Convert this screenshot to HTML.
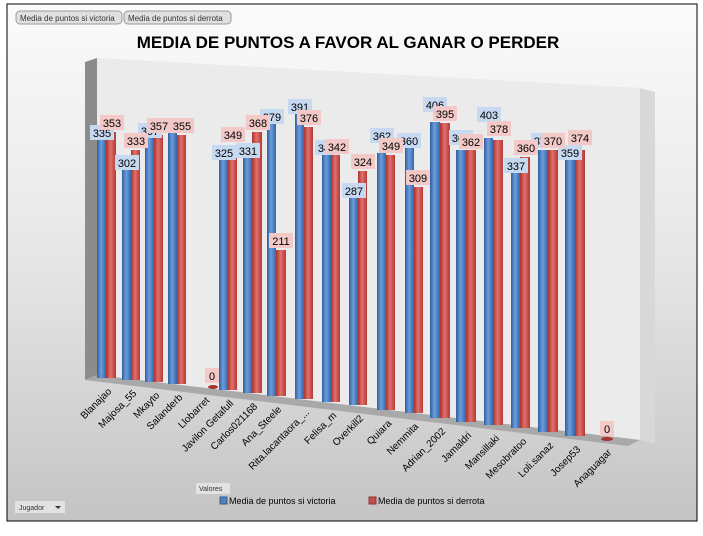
<!DOCTYPE html>
<html><head><meta charset="utf-8"><style>
body{margin:0;width:703px;height:531px;overflow:hidden;background:#fff;font-family:"Liberation Sans",sans-serif}
</style></head><body>
<svg width="703" height="531" viewBox="0 0 703 531" xmlns="http://www.w3.org/2000/svg" font-family="Liberation Sans, sans-serif">
<defs>
<linearGradient id="bg" x1="0" y1="0" x2="0" y2="1"><stop offset="0" stop-color="#fbfbfb"/><stop offset="0.5" stop-color="#e6e6e6"/><stop offset="1" stop-color="#c4c4c4"/></linearGradient>
<linearGradient id="bl" x1="0" y1="0" x2="1" y2="0"><stop offset="0" stop-color="#2f5e9e"/><stop offset="0.45" stop-color="#6d9ddb"/><stop offset="1" stop-color="#3466ad"/></linearGradient>
<linearGradient id="rd" x1="0" y1="0" x2="1" y2="0"><stop offset="0" stop-color="#a8322f"/><stop offset="0.45" stop-color="#e2706b"/><stop offset="1" stop-color="#b33a36"/></linearGradient>
</defs>
<rect x="7" y="4" width="690" height="517" fill="url(#bg)" stroke="#000" stroke-width="1"/>
<!-- walls -->
<polygon points="97,58 640,88 640,440 97,375" fill="#ebebeb"/>
<polygon points="640,88 655,92 655,444 640,440" fill="#d8d8d8"/>
<polygon points="85,62 97,58 97,375 85,380" fill="#8c8c8c"/>
<polygon points="85,380 97,375 640,440 628,446" fill="#a9a9a9"/>
<!-- buttons -->
<rect x="16" y="11" width="106" height="13" rx="4" fill="#e0e0e0" stroke="#9a9a9a"/>
<text x="20" y="21" font-size="8" fill="#333">Media de puntos si victoria</text>
<rect x="124" y="11" width="107" height="13" rx="4" fill="#e0e0e0" stroke="#9a9a9a"/>
<text x="128" y="21" font-size="8" fill="#333">Media de puntos si derrota</text>
<text x="348" y="48" font-size="17" font-weight="bold" text-anchor="middle" fill="#000">MEDIA DE PUNTOS A FAVOR AL GANAR O PERDER</text>
<g id="bars">
<!-- bars: blue then red -->
<rect x="97" y="140" width="9" height="238" fill="url(#bl)"/><rect x="106" y="132" width="10" height="246" fill="url(#rd)"/>
<rect x="122" y="170" width="9" height="210" fill="url(#bl)"/><rect x="131" y="150" width="9" height="230" fill="url(#rd)"/>
<rect x="145" y="138" width="9" height="244" fill="url(#bl)"/><rect x="154" y="135" width="9" height="247" fill="url(#rd)"/>
<rect x="168" y="133" width="9" height="251" fill="url(#bl)"/><rect x="177" y="135" width="9" height="249" fill="url(#rd)"/>
<ellipse cx="213" cy="387" rx="5" ry="2" fill="#a8322f"/>
<rect x="219" y="160" width="9" height="230" fill="url(#bl)"/><rect x="228" y="155" width="9" height="235" fill="url(#rd)"/>
<rect x="243" y="158" width="9" height="235" fill="url(#bl)"/><rect x="252" y="132" width="10" height="261" fill="url(#rd)"/>
<rect x="267" y="124" width="9" height="272" fill="url(#bl)"/><rect x="276" y="250" width="10" height="146" fill="url(#rd)"/>
<rect x="295" y="114" width="9" height="285" fill="url(#bl)"/><rect x="304" y="127" width="9" height="272" fill="url(#rd)"/>
<rect x="322" y="155" width="9" height="247" fill="url(#bl)"/><rect x="331" y="155" width="9" height="247" fill="url(#rd)"/>
<rect x="349" y="198" width="9" height="207" fill="url(#bl)"/><rect x="358" y="171" width="9" height="234" fill="url(#rd)"/>
<rect x="377" y="153" width="9" height="257" fill="url(#bl)"/><rect x="386" y="155" width="9" height="255" fill="url(#rd)"/>
<rect x="405" y="148" width="9" height="265" fill="url(#bl)"/><rect x="414" y="187" width="9" height="226" fill="url(#rd)"/>
<rect x="430" y="122" width="10" height="296" fill="url(#bl)"/><rect x="440" y="123" width="10" height="295" fill="url(#rd)"/>
<rect x="456" y="150" width="10" height="272" fill="url(#bl)"/><rect x="466" y="150" width="10" height="272" fill="url(#rd)"/>
<rect x="484" y="138" width="9" height="287" fill="url(#bl)"/><rect x="493" y="140" width="10" height="285" fill="url(#rd)"/>
<rect x="511" y="173" width="9" height="255" fill="url(#bl)"/><rect x="520" y="157" width="10" height="271" fill="url(#rd)"/>
<rect x="538" y="150" width="10" height="282" fill="url(#bl)"/><rect x="548" y="150" width="10" height="282" fill="url(#rd)"/>
<rect x="565" y="160" width="10" height="276" fill="url(#bl)"/><rect x="575" y="150" width="10" height="286" fill="url(#rd)"/>
<ellipse cx="607" cy="439" rx="6" ry="2" fill="#a8322f"/>
</g>
<g font-size="11" text-anchor="middle" fill="#000">
<!-- blue labels -->
<g fill="#c6d9f1"><rect x="90" y="125" width="24" height="15"/><rect x="115" y="155" width="24" height="15"/><rect x="138" y="123" width="24" height="15"/><rect x="212" y="145" width="24" height="15"/><rect x="236" y="143" width="24" height="15"/><rect x="260" y="109" width="24" height="15"/><rect x="288" y="99" width="24" height="15"/><rect x="315" y="140" width="24" height="15"/><rect x="342" y="183" width="24" height="15"/><rect x="370" y="128" width="24" height="15"/><rect x="397" y="133" width="24" height="15"/><rect x="423" y="97" width="24" height="15"/><rect x="449" y="130" width="24" height="15"/><rect x="477" y="107" width="24" height="15"/><rect x="504" y="158" width="24" height="15"/><rect x="531" y="133" width="24" height="15"/><rect x="558" y="145" width="24" height="15"/></g>
<text x="102" y="137">335</text><text x="127" y="167">302</text><text x="150" y="135">357</text><text x="224" y="157">325</text><text x="248" y="155">331</text><text x="272" y="121">379</text><text x="300" y="111">391</text><text x="327" y="152">340</text><text x="354" y="195">287</text><text x="382" y="140">362</text><text x="409" y="145">360</text><text x="435" y="109">406</text><text x="461" y="142">363</text><text x="489" y="119">403</text><text x="516" y="170">337</text><text x="543" y="145">373</text><text x="570" y="157">359</text>
<!-- red labels -->
<g fill="#f2c9c7"><rect x="100" y="115" width="24" height="15"/><rect x="124" y="133" width="24" height="15"/><rect x="147" y="118" width="24" height="15"/><rect x="170" y="118" width="24" height="15"/><rect x="205" y="368" width="14" height="15"/><rect x="221" y="127" width="24" height="15"/><rect x="246" y="115" width="24" height="15"/><rect x="269" y="233" width="24" height="15"/><rect x="297" y="110" width="24" height="15"/><rect x="325" y="139" width="24" height="15"/><rect x="351" y="154" width="24" height="15"/><rect x="379" y="138" width="24" height="15"/><rect x="406" y="170" width="24" height="15"/><rect x="433" y="106" width="24" height="15"/><rect x="459" y="134" width="24" height="15"/><rect x="487" y="121" width="24" height="15"/><rect x="514" y="140" width="24" height="15"/><rect x="541" y="133" width="24" height="15"/><rect x="568" y="130" width="24" height="15"/><rect x="600" y="421" width="14" height="15"/></g>
<text x="112" y="127">353</text><text x="136" y="145">333</text><text x="159" y="130">357</text><text x="182" y="130">355</text><text x="212" y="380">0</text><text x="233" y="139">349</text><text x="258" y="127">368</text><text x="281" y="245">211</text><text x="309" y="122">376</text><text x="337" y="151">342</text><text x="363" y="166">324</text><text x="391" y="150">349</text><text x="418" y="182">309</text><text x="445" y="118">395</text><text x="471" y="146">362</text><text x="499" y="133">378</text><text x="526" y="152">360</text><text x="553" y="145">370</text><text x="580" y="142">374</text><text x="607" y="433">0</text>
</g>
<g font-size="10" text-anchor="end" fill="#000">
<text transform="translate(112,392) rotate(-45)">Blanajao</text>
<text transform="translate(137,394) rotate(-45)">Majosa_55</text>
<text transform="translate(160,396) rotate(-45)">Mkayto</text>
<text transform="translate(183,398) rotate(-45)">Salanderb</text>
<text transform="translate(210,401) rotate(-45)">Llobarret</text>
<text transform="translate(234,404) rotate(-45)">Javilon Getafull</text>
<text transform="translate(258,407) rotate(-45)">Carlos021168</text>
<text transform="translate(282,410) rotate(-45)">Ana_Steele</text>
<text transform="translate(310,413) rotate(-45)">Rita.lacantaora_...</text>
<text transform="translate(337,416) rotate(-45)">Felisa_m</text>
<text transform="translate(364,419) rotate(-45)">Overkill2</text>
<text transform="translate(392,424) rotate(-45)">Quiara</text>
<text transform="translate(419,427) rotate(-45)">Nemmita</text>
<text transform="translate(446,432) rotate(-45)">Adrian_2002</text>
<text transform="translate(472,436) rotate(-45)">Jamaldri</text>
<text transform="translate(500,439) rotate(-45)">Mansillaki</text>
<text transform="translate(527,442) rotate(-45)">Mesobratoo</text>
<text transform="translate(554,446) rotate(-45)">Loli.sanaz</text>
<text transform="translate(581,450) rotate(-45)">Josep53</text>
<text transform="translate(612,453) rotate(-45)">Anaguagar</text>
</g>
<rect x="196" y="483" width="34" height="11" fill="#e2e2e2"/>
<text x="199" y="491" font-size="7" fill="#333">Valores</text>
<rect x="220" y="497" width="7" height="7" fill="#4f81bd" stroke="#385d8a"/>
<text x="229" y="504" font-size="9" fill="#000">Media de puntos si victoria</text>
<rect x="369" y="497" width="7" height="7" fill="#c0504d" stroke="#8c3836"/>
<text x="378" y="504" font-size="9" fill="#000">Media de puntos si derrota</text>
<rect x="15" y="501" width="50" height="12" fill="#e2e2e2"/>
<text x="19" y="510" font-size="7" fill="#333">Jugador</text>
<polygon points="55,506 61,506 58,509" fill="#333"/>
</svg>
</body></html>
